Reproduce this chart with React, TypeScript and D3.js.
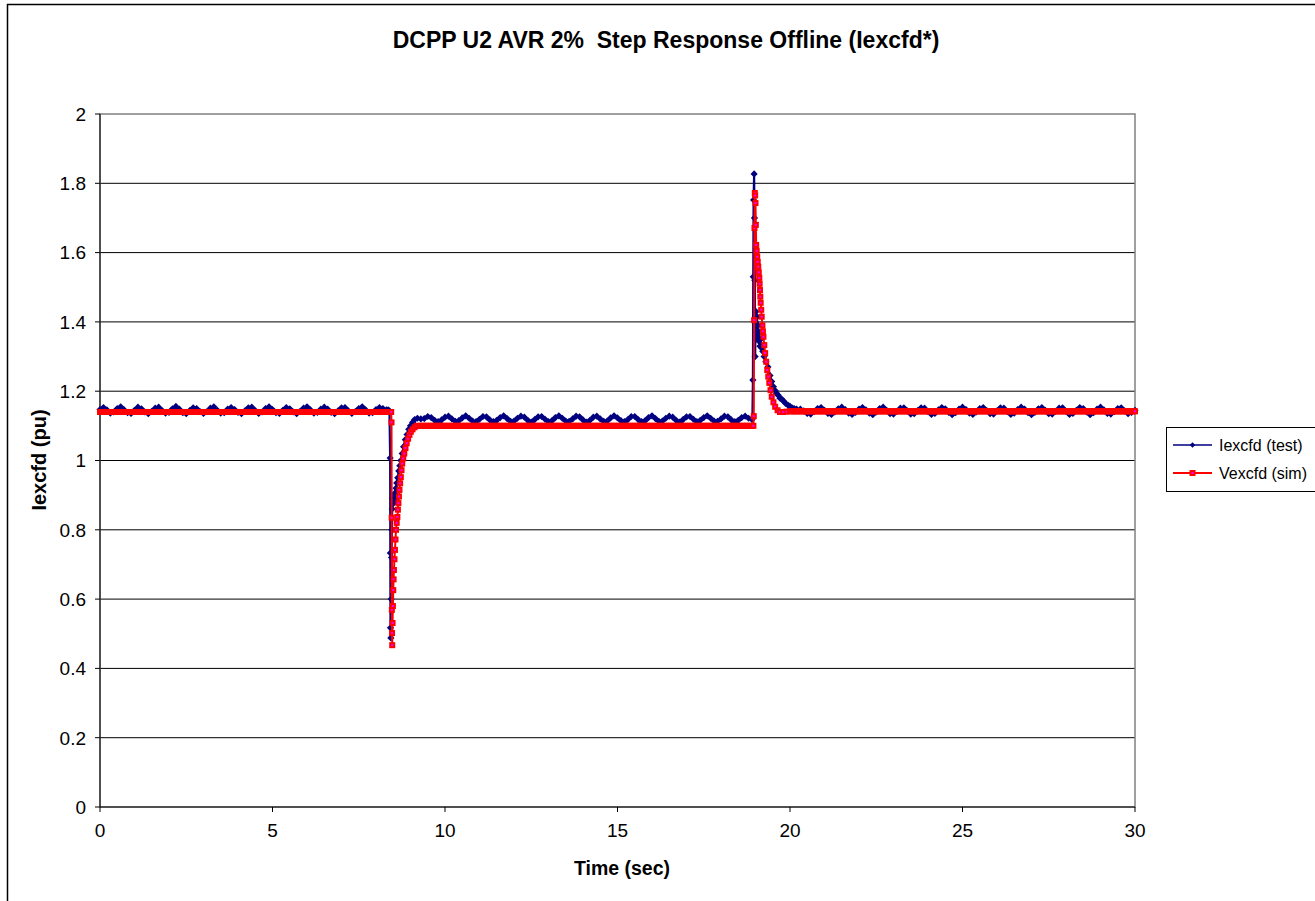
import React from 'react';
import * as d3 from 'd3';

// ---------- DATA ----------
const xTicks = [0, 5, 10, 15, 20, 25, 30];
const yTicks = [0, 0.2, 0.4, 0.6, 0.8, 1, 1.2, 1.4, 1.6, 1.8, 2];
const yTickLabels = ['0', '0.2', '0.4', '0.6', '0.8', '1', '1.2', '1.4', '1.6', '1.8', '2'];

const TEST_DT = 0.1;
const SIM_DT = 0.05;

// Iexcfd (test): steady sections sampled every 0.1 s
const testPreStart = 0;
const testPre = [
  1.147, 1.153, 1.146, 1.137, 1.140, 1.150, 1.155, 1.146, 1.138, 1.136,
  1.145, 1.154, 1.149, 1.140, 1.135, 1.142, 1.151, 1.154, 1.144, 1.137,
  1.139, 1.149, 1.156, 1.148, 1.138, 1.135, 1.144, 1.152, 1.150, 1.141,
  1.136, 1.141, 1.151, 1.155, 1.145, 1.137, 1.138, 1.148, 1.153, 1.147,
  1.139, 1.135, 1.143, 1.152, 1.154, 1.144, 1.136, 1.140, 1.150, 1.155,
  1.147, 1.138, 1.136, 1.145, 1.153, 1.149, 1.140, 1.135, 1.142, 1.151,
  1.155, 1.146, 1.137, 1.139, 1.148, 1.154, 1.148, 1.139, 1.135, 1.143,
  1.152, 1.153, 1.143, 1.136, 1.141, 1.150, 1.155, 1.146, 1.137, 1.138,
  1.147, 1.153, 1.150, 1.146,
];
const testMidStart = 9.4;
const testMid = [
  1.121, 1.127, 1.124, 1.116, 1.112, 1.117, 1.125, 1.128, 1.120, 1.113,
  1.115, 1.123, 1.129, 1.122, 1.114, 1.112, 1.119, 1.127, 1.126, 1.117,
  1.112, 1.116, 1.124, 1.129, 1.121, 1.113, 1.114, 1.122, 1.128, 1.125,
  1.116, 1.111, 1.118, 1.126, 1.127, 1.119, 1.112, 1.115, 1.124, 1.129,
  1.122, 1.114, 1.113, 1.120, 1.128, 1.126, 1.117, 1.111, 1.116, 1.125,
  1.128, 1.120, 1.113, 1.114, 1.123, 1.129, 1.123, 1.115, 1.112, 1.118,
  1.127, 1.127, 1.118, 1.112, 1.115, 1.124, 1.129, 1.121, 1.113, 1.114,
  1.122, 1.128, 1.125, 1.116, 1.111, 1.118, 1.126, 1.127, 1.119, 1.112,
  1.116, 1.124, 1.129, 1.122, 1.114, 1.113, 1.120, 1.128, 1.126, 1.117,
  1.112, 1.116, 1.124, 1.128, 1.122, 1.118,
];
const testPostStart = 20.3;
const testPost = [
  1.148, 1.143, 1.136, 1.134, 1.141, 1.150, 1.153, 1.145, 1.136, 1.133,
  1.140, 1.149, 1.154, 1.147, 1.137, 1.133, 1.139, 1.148, 1.153, 1.146,
  1.137, 1.132, 1.140, 1.150, 1.154, 1.145, 1.135, 1.134, 1.142, 1.151,
  1.152, 1.143, 1.134, 1.135, 1.144, 1.152, 1.151, 1.141, 1.133, 1.136,
  1.146, 1.153, 1.149, 1.139, 1.132, 1.138, 1.148, 1.154, 1.147, 1.137,
  1.133, 1.140, 1.150, 1.153, 1.144, 1.135, 1.134, 1.143, 1.152, 1.151,
  1.141, 1.133, 1.137, 1.147, 1.154, 1.148, 1.138, 1.132, 1.139, 1.149,
  1.153, 1.145, 1.135, 1.134, 1.142, 1.151, 1.152, 1.142, 1.133, 1.136,
  1.145, 1.153, 1.150, 1.140, 1.132, 1.138, 1.148, 1.154, 1.146, 1.136,
  1.134, 1.141, 1.150, 1.152, 1.143, 1.135, 1.139, 1.145,
];
// Iexcfd (test): transients [time, value]
const testStepDown: [number, number][] = [
  [8.35, 1.146], [8.39, 1.143], [8.41, 1.007], [8.415, 0.733], [8.42, 0.517],
  [8.43, 0.488], [8.44, 0.6], [8.45, 0.72], [8.46, 0.8], [8.47, 0.86],
  [8.48, 0.89], [8.49, 0.875], [8.5, 0.895], [8.52, 0.88], [8.54, 0.905],
  [8.56, 0.89], [8.58, 0.92], [8.6, 0.935], [8.63, 0.95], [8.66, 0.97],
  [8.69, 0.985], [8.72, 1.0], [8.76, 1.02], [8.8, 1.04], [8.85, 1.06],
  [8.9, 1.075], [8.95, 1.09], [9.0, 1.1], [9.06, 1.11], [9.12, 1.118],
  [9.2, 1.122], [9.3, 1.12],
];
const testStepUp: [number, number][] = [
  [18.91, 1.121], [18.925, 1.232], [18.935, 1.53], [18.945, 1.752], [18.96, 1.827],
  [18.97, 1.7], [18.98, 1.52], [18.99, 1.3], [19.0, 1.4], [19.015, 1.43],
  [19.03, 1.37], [19.045, 1.415], [19.06, 1.35], [19.075, 1.39], [19.09, 1.345],
  [19.11, 1.37], [19.13, 1.33], [19.15, 1.35], [19.18, 1.325], [19.21, 1.315],
  [19.25, 1.3], [19.3, 1.285], [19.36, 1.27], [19.42, 1.245], [19.47, 1.228],
  [19.52, 1.213], [19.57, 1.202], [19.61, 1.194], [19.66, 1.188], [19.71, 1.18],
  [19.76, 1.177], [19.81, 1.172], [19.87, 1.165], [19.94, 1.16], [20.0, 1.156],
  [20.06, 1.152], [20.12, 1.15], [20.19, 1.148],
];

// Vexcfd (sim): steady sections sampled every 0.05 s
const simPreStart = 0;
const simPre = [
  1.14, 1.14, 1.14, 1.14, 1.14, 1.14, 1.14, 1.14, 1.14, 1.14,
  1.14, 1.14, 1.14, 1.14, 1.14, 1.14, 1.14, 1.14, 1.14, 1.14,
  1.14, 1.14, 1.14, 1.14, 1.14, 1.14, 1.14, 1.14, 1.14, 1.14,
  1.14, 1.14, 1.14, 1.14, 1.14, 1.14, 1.14, 1.14, 1.14, 1.14,
  1.14, 1.14, 1.14, 1.14, 1.14, 1.14, 1.14, 1.14, 1.14, 1.14,
  1.14, 1.14, 1.14, 1.14, 1.14, 1.14, 1.14, 1.14, 1.14, 1.14,
  1.14, 1.14, 1.14, 1.14, 1.14, 1.14, 1.14, 1.14, 1.14, 1.14,
  1.14, 1.14, 1.14, 1.14, 1.14, 1.14, 1.14, 1.14, 1.14, 1.14,
  1.14, 1.14, 1.14, 1.14, 1.14, 1.14, 1.14, 1.14, 1.14, 1.14,
  1.14, 1.14, 1.14, 1.14, 1.14, 1.14, 1.14, 1.14, 1.14, 1.14,
  1.14, 1.14, 1.14, 1.14, 1.14, 1.14, 1.14, 1.14, 1.14, 1.14,
  1.14, 1.14, 1.14, 1.14, 1.14, 1.14, 1.14, 1.14, 1.14, 1.14,
  1.14, 1.14, 1.14, 1.14, 1.14, 1.14, 1.14, 1.14, 1.14, 1.14,
  1.14, 1.14, 1.14, 1.14, 1.14, 1.14, 1.14, 1.14, 1.14, 1.14,
  1.14, 1.14, 1.14, 1.14, 1.14, 1.14, 1.14, 1.14, 1.14, 1.14,
  1.14, 1.14, 1.14, 1.14, 1.14, 1.14, 1.14, 1.14, 1.14, 1.14,
  1.14, 1.14, 1.14, 1.14, 1.14, 1.14, 1.14, 1.14, 1.14,
];
const simMidStart = 9.3;
const simMid = [
  1.1, 1.1, 1.1, 1.1, 1.1, 1.1, 1.1, 1.1, 1.1, 1.1,
  1.1, 1.1, 1.1, 1.1, 1.1, 1.1, 1.1, 1.1, 1.1, 1.1,
  1.1, 1.1, 1.1, 1.1, 1.1, 1.1, 1.1, 1.1, 1.1, 1.1,
  1.1, 1.1, 1.1, 1.1, 1.1, 1.1, 1.1, 1.1, 1.1, 1.1,
  1.1, 1.1, 1.1, 1.1, 1.1, 1.1, 1.1, 1.1, 1.1, 1.1,
  1.1, 1.1, 1.1, 1.1, 1.1, 1.1, 1.1, 1.1, 1.1, 1.1,
  1.1, 1.1, 1.1, 1.1, 1.1, 1.1, 1.1, 1.1, 1.1, 1.1,
  1.1, 1.1, 1.1, 1.1, 1.1, 1.1, 1.1, 1.1, 1.1, 1.1,
  1.1, 1.1, 1.1, 1.1, 1.1, 1.1, 1.1, 1.1, 1.1, 1.1,
  1.1, 1.1, 1.1, 1.1, 1.1, 1.1, 1.1, 1.1, 1.1, 1.1,
  1.1, 1.1, 1.1, 1.1, 1.1, 1.1, 1.1, 1.1, 1.1, 1.1,
  1.1, 1.1, 1.1, 1.1, 1.1, 1.1, 1.1, 1.1, 1.1, 1.1,
  1.1, 1.1, 1.1, 1.1, 1.1, 1.1, 1.1, 1.1, 1.1, 1.1,
  1.1, 1.1, 1.1, 1.1, 1.1, 1.1, 1.1, 1.1, 1.1, 1.1,
  1.1, 1.1, 1.1, 1.1, 1.1, 1.1, 1.1, 1.1, 1.1, 1.1,
  1.1, 1.1, 1.1, 1.1, 1.1, 1.1, 1.1, 1.1, 1.1, 1.1,
  1.1, 1.1, 1.1, 1.1, 1.1, 1.1, 1.1, 1.1, 1.1, 1.1,
  1.1, 1.1, 1.1, 1.1, 1.1, 1.1, 1.1, 1.1, 1.1, 1.1,
  1.1, 1.1, 1.1, 1.1, 1.1, 1.1, 1.1, 1.1, 1.1, 1.1,
  1.1, 1.1, 1.1,
];
const simPostStart = 20.1;
const simPost = [
  1.142, 1.142, 1.142, 1.142, 1.142, 1.142, 1.142, 1.142, 1.142, 1.142,
  1.142, 1.142, 1.142, 1.142, 1.142, 1.142, 1.142, 1.142, 1.142, 1.142,
  1.142, 1.142, 1.142, 1.142, 1.142, 1.142, 1.142, 1.142, 1.142, 1.142,
  1.142, 1.142, 1.142, 1.142, 1.142, 1.142, 1.142, 1.142, 1.142, 1.142,
  1.142, 1.142, 1.142, 1.142, 1.142, 1.142, 1.142, 1.142, 1.142, 1.142,
  1.142, 1.142, 1.142, 1.142, 1.142, 1.142, 1.142, 1.142, 1.142, 1.142,
  1.142, 1.142, 1.142, 1.142, 1.142, 1.142, 1.142, 1.142, 1.142, 1.142,
  1.142, 1.142, 1.142, 1.142, 1.142, 1.142, 1.142, 1.142, 1.142, 1.142,
  1.142, 1.142, 1.142, 1.142, 1.142, 1.142, 1.142, 1.142, 1.142, 1.142,
  1.142, 1.142, 1.142, 1.142, 1.142, 1.142, 1.142, 1.142, 1.142, 1.142,
  1.142, 1.142, 1.142, 1.142, 1.142, 1.142, 1.142, 1.142, 1.142, 1.142,
  1.142, 1.142, 1.142, 1.142, 1.142, 1.142, 1.142, 1.142, 1.142, 1.142,
  1.142, 1.142, 1.142, 1.142, 1.142, 1.142, 1.142, 1.142, 1.142, 1.142,
  1.142, 1.142, 1.142, 1.142, 1.142, 1.142, 1.142, 1.142, 1.142, 1.142,
  1.142, 1.142, 1.142, 1.142, 1.142, 1.142, 1.142, 1.142, 1.142, 1.142,
  1.142, 1.142, 1.142, 1.142, 1.142, 1.142, 1.142, 1.142, 1.142, 1.142,
  1.142, 1.142, 1.142, 1.142, 1.142, 1.142, 1.142, 1.142, 1.142, 1.142,
  1.142, 1.142, 1.142, 1.142, 1.142, 1.142, 1.142, 1.142, 1.142, 1.142,
  1.142, 1.142, 1.142, 1.142, 1.142, 1.142, 1.142, 1.142, 1.142, 1.142,
  1.142, 1.142, 1.142, 1.142, 1.142, 1.142, 1.142, 1.142, 1.142,
];
// Vexcfd (sim): transients [time, value]
const simStepDown: [number, number][] = [
  [8.44, 1.14], [8.45, 1.11], [8.455, 0.835], [8.46, 0.569], [8.465, 0.502],
  [8.47, 0.467], [8.48, 0.531], [8.49, 0.58], [8.5, 0.626], [8.51, 0.657],
  [8.52, 0.684], [8.535, 0.715], [8.55, 0.742], [8.565, 0.772], [8.58, 0.8],
  [8.6, 0.82], [8.62, 0.837], [8.635, 0.858], [8.65, 0.877], [8.665, 0.896],
  [8.68, 0.915], [8.7, 0.934], [8.72, 0.952], [8.74, 0.972], [8.76, 0.991],
  [8.79, 1.006], [8.82, 1.02], [8.855, 1.036], [8.89, 1.05], [8.93, 1.063],
  [8.97, 1.074], [9.01, 1.083], [9.06, 1.09], [9.12, 1.096], [9.18, 1.1],
  [9.25, 1.1],
];
const simStepUp: [number, number][] = [
  [18.94, 1.1], [18.95, 1.128], [18.96, 1.405], [18.97, 1.671], [18.98, 1.772],
  [18.99, 1.765], [19.0, 1.743], [19.01, 1.68], [19.02, 1.622], [19.035, 1.605],
  [19.05, 1.588], [19.065, 1.573], [19.08, 1.559], [19.095, 1.543], [19.11, 1.527],
  [19.12, 1.51], [19.13, 1.492], [19.14, 1.473], [19.15, 1.455], [19.165, 1.435],
  [19.18, 1.415], [19.2, 1.39], [19.215, 1.373], [19.23, 1.357], [19.255, 1.333],
  [19.28, 1.31], [19.31, 1.285], [19.34, 1.261], [19.37, 1.242], [19.4, 1.224],
  [19.435, 1.203], [19.47, 1.184], [19.52, 1.168], [19.57, 1.155], [19.64, 1.145],
  [19.71, 1.14], [19.8, 1.14], [19.9, 1.141], [20.0, 1.142], [20.05, 1.142],
];

const seriesNames = ['Iexcfd (test)', 'Vexcfd (sim)'];

// ---------- BUILD ----------
type P = [number, number];
const seg = (start: number, dt: number, vals: number[]): P[] =>
  vals.map((v, i) => [Math.round((start + i * dt) * 1000) / 1000, v] as P);

const testData: P[] = [
  ...seg(testPreStart, TEST_DT, testPre),
  ...testStepDown,
  ...seg(testMidStart, TEST_DT, testMid),
  ...testStepUp,
  ...seg(testPostStart, TEST_DT, testPost),
].sort((a, b) => a[0] - b[0]);

const simData: P[] = [
  ...seg(simPreStart, SIM_DT, simPre),
  ...simStepDown,
  ...seg(simMidStart, SIM_DT, simMid),
  ...simStepUp,
  ...seg(simPostStart, SIM_DT, simPost),
].sort((a, b) => a[0] - b[0]);

const W = 1315;
const H = 901;
const L = 100, R = 1135, T = 114, B = 807;
const FONT = '"Liberation Sans", Arial, sans-serif';
const BLUE = '#000080';
const RED = '#FF0000';
const MAG = '#FF00FF';

const diamond = (cx: number, cy: number, r: number) =>
  `M${cx},${cy - r}L${cx + r},${cy}L${cx},${cy + r}L${cx - r},${cy}Z`;

export default function App() {
  const x = d3.scaleLinear().domain([0, 30]).range([L, R]);
  const y = d3.scaleLinear().domain([0, 2]).range([B, T]);
  const line = d3.line<P>().x((d) => x(d[0])).y((d) => y(d[1]));

  return (
    <div style={{ position: 'absolute', left: 0, top: 0 }}>
      <svg width={W} height={H} style={{ display: 'block', background: '#fff' }} fontFamily={FONT}>
        <rect x={0} y={0} width={W} height={H} fill="#fff" />
        {/* chart area border */}
        <rect x={7.5} y={4.5} width={1400} height={1000} fill="none" stroke="#000" strokeWidth={1.5} />

        {/* title */}
        <text x={666} y={48} textAnchor="middle" fontSize={23} fontWeight="bold" style={{ whiteSpace: 'pre' }}>
          {'DCPP U2 AVR 2%  Step Response Offline (Iexcfd*)'}
        </text>

        {/* gridlines */}
        {yTicks.filter((v) => v > 0 && v < 2).map((v) => (
          <line key={'g' + v} x1={L} x2={R} y1={y(v)} y2={y(v)} stroke="#000" strokeWidth={1} />
        ))}
        {/* plot border */}
        <rect x={L} y={T} width={R - L} height={B - T} fill="none" stroke="#808080" strokeWidth={1.5} />

        {/* axes */}
        <line x1={L} x2={L} y1={T} y2={B} stroke="#000" strokeWidth={1} />
        <line x1={L} x2={R} y1={B} y2={B} stroke="#000" strokeWidth={1} />
        {yTicks.map((v, i) => (
          <g key={'yt' + v}>
            <line x1={L - 5} x2={L} y1={y(v)} y2={y(v)} stroke="#000" strokeWidth={1} />
            <text x={86} y={y(v)} dy="0.36em" textAnchor="end" fontSize={19}>
              {yTickLabels[i]}
            </text>
          </g>
        ))}
        {xTicks.map((v) => (
          <g key={'xt' + v}>
            <line x1={x(v)} x2={x(v)} y1={B} y2={B + 5} stroke="#000" strokeWidth={1} />
            <text x={x(v)} y={837} textAnchor="middle" fontSize={19}>
              {v}
            </text>
          </g>
        ))}

        {/* axis titles */}
        <text x={622} y={875} textAnchor="middle" fontSize={19.5} fontWeight="bold">
          Time (sec)
        </text>
        <text transform="translate(46,460) rotate(-90)" textAnchor="middle" fontSize={20} fontWeight="bold">
          Iexcfd (pu)
        </text>

        {/* test series */}
        <path d={line(testData) || ''} fill="none" stroke={BLUE} strokeWidth={2.2} strokeLinejoin="round" />
        {testData.map((d, i) => (
          <path key={'tm' + i} d={diamond(x(d[0]), y(d[1]), 3.6)} fill={BLUE} />
        ))}

        {/* sim series */}
        <path d={line(simData) || ''} fill="none" stroke={RED} strokeWidth={2} />
        {simData.map((d, i) => (
          <rect key={'sm' + i} x={x(d[0]) - 2} y={y(d[1]) - 2} width={4} height={4} fill={MAG} stroke={RED} strokeWidth={2} />
        ))}

        {/* legend */}
        <rect x={1166.5} y={427.5} width={200} height={64} fill="#fff" stroke="#000" strokeWidth={1} />
        <line x1={1173} x2={1212} y1={445} y2={445} stroke={BLUE} strokeWidth={1.5} />
        <path d={diamond(1192.5, 445, 2.8)} fill={BLUE} />
        <text x={1219} y={445} dy="0.36em" fontSize={16}>
          {seriesNames[0]}
        </text>
        <line x1={1173} x2={1212} y1={473} y2={473} stroke={RED} strokeWidth={2} />
        <rect x={1190.5} y={471} width={4} height={4} fill={MAG} stroke={RED} strokeWidth={2} />
        <text x={1219} y={473} dy="0.36em" fontSize={16}>
          {seriesNames[1]}
        </text>
      </svg>
    </div>
  );
}
